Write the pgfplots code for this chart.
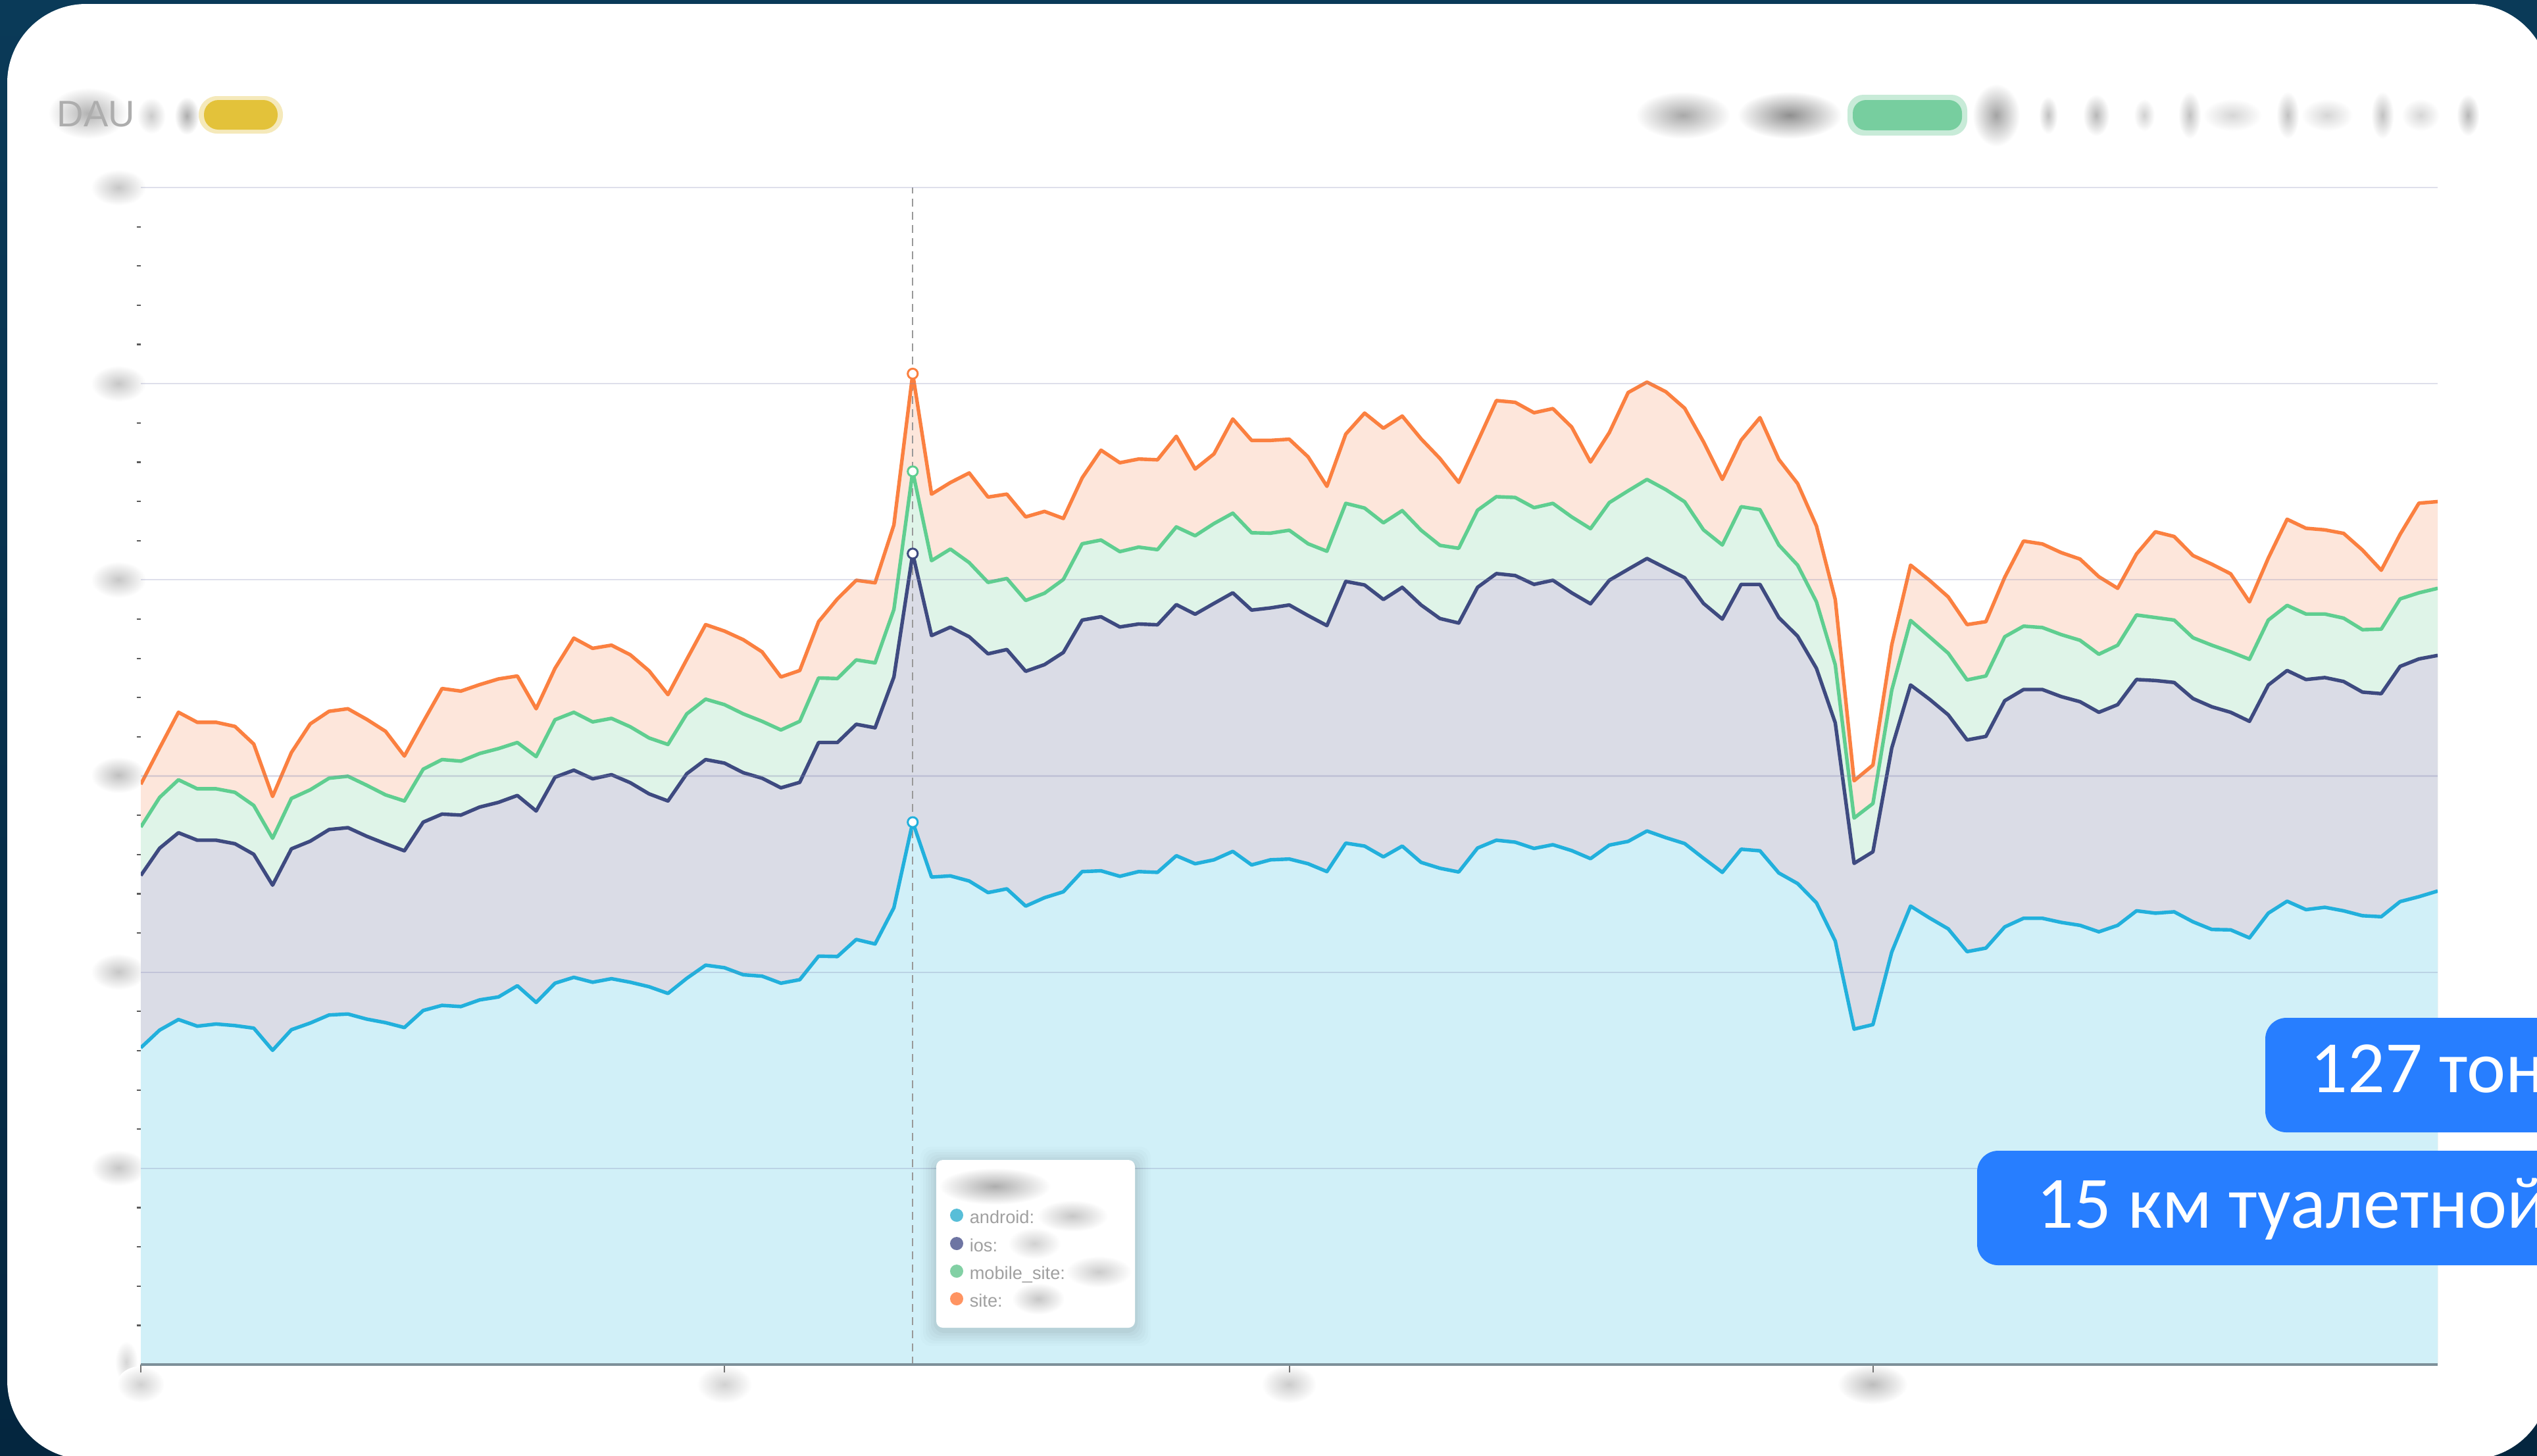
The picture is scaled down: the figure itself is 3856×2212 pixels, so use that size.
\documentclass[border=0pt]{standalone}
\usepackage{pgfplots}
\usepackage{pgfplotstable}
\usepackage{fontspec}
\setmainfont{Liberation Sans}
\newfontfamily\carlito{Carlito}
\pgfplotsset{compat=1.18}
\definecolor{bgA}{HTML}{0A3A58}
\definecolor{bgB}{HTML}{04263F}
\definecolor{cA}{HTML}{22B0DC}
\definecolor{cI}{HTML}{3E4A80}
\definecolor{cM}{HTML}{5FCE90}
\definecolor{cS}{HTML}{FB8040}
\definecolor{fA}{HTML}{D1F0F8}
\definecolor{fI}{HTML}{DADCE6}
\definecolor{fM}{HTML}{DFF4E8}
\definecolor{fS}{HTML}{FDE6DB}
\definecolor{gridc}{HTML}{7C80B0}
\definecolor{axisc}{HTML}{7D9099}
\definecolor{bluebox}{HTML}{277EFF}
\definecolor{tipt}{HTML}{A0A0A0}
\definecolor{pillY}{HTML}{E3C23A}
\definecolor{pillG}{HTML}{77CE9F}
\definecolor{dotA}{HTML}{58BED8}
\definecolor{dotI}{HTML}{6E75A3}
\definecolor{dotM}{HTML}{82D0A4}
\definecolor{dotS}{HTML}{FF9462}
\newcommand{\blob}[5]{\shade[inner color=#5, outer color=white] (#1,#2) ellipse ({#3*0.72} and {#4*0.72});}
\pgfplotstableread{
idx android ios mobile site
0 161.5 249.3 274.0 295.8
1 170.5 263.2 289.1 314.3
2 175.9 271.1 298.1 332.5
3 172.5 267.3 293.5 327.4
4 173.6 267.3 293.5 327.4
5 172.8 265.5 291.7 325.3
6 171.5 260.1 285.0 316.3
7 160.2 244.4 268.3 289.6
8 170.7 262.9 288.6 312.0
9 174.1 266.8 293.0 326.6
10 178.2 272.7 298.9 333.0
11 178.7 273.7 299.9 334.3
12 176.1 269.3 295.3 328.9
13 174.3 265.5 290.4 322.8
14 171.8 261.9 287.3 310.2
15 180.5 276.5 303.5 327.6
16 183.1 280.6 308.4 344.6
17 182.5 280.1 307.6 343.3
18 185.9 284.2 311.5 346.6
19 187.4 286.6 314.0 349.5
20 193.1 290.1 317.1 351.0
21 184.6 282.2 309.9 334.3
22 194.4 299.4 328.7 354.9
23 197.4 303.0 332.5 370.3
24 194.9 298.6 327.6 365.1
25 196.7 300.7 329.4 366.7
26 194.9 296.6 325.1 361.8
27 192.6 290.9 319.4 353.6
28 189.2 287.3 316.1 341.5
29 196.9 301.2 331.7 359.5
30 203.6 308.4 339.2 377.2
31 202.3 306.6 336.4 373.9
32 198.7 301.7 331.7 369.5
33 198.0 298.9 327.9 363.3
34 194.4 294.0 323.5 350.5
35 196.2 296.8 327.9 353.8
36 208.2 317.1 350.0 378.7
37 208.0 317.1 349.7 390.3
38 216.7 326.4 359.2 399.8
39 214.4 324.6 357.7 398.5
40 232.9 350.5 384.9 428.0
41 276.5 413.4 455.3 505.1
42 248.5 371.6 409.8 443.7
43 249.1 375.9 415.7 449.6
44 246.5 371.0 408.8 454.5
45 240.6 362.3 398.7 442.2
46 242.5 364.5 400.7 443.7
47 233.7 353.4 389.5 432.1
48 238.0 356.8 393.2 434.9
49 241.0 363.0 400.2 431.3
50 251.3 379.5 418.4 452.0
51 251.7 381.2 420.3 466.1
52 248.9 376.0 414.4 459.7
53 251.3 377.5 416.7 461.6
54 250.9 377.1 415.4 461.2
55 259.4 387.4 427.0 473.2
56 255.3 382.5 422.5 456.5
57 257.3 388.0 428.7 464.2
58 261.6 393.4 434.0 482.0
59 254.7 384.6 424.0 471.1
60 257.3 385.7 423.8 471.1
61 257.7 387.2 425.3 471.7
62 255.3 381.8 418.4 462.7
63 251.3 376.7 414.6 447.7
64 265.8 399.2 439.0 474.3
65 264.3 397.4 436.6 485.0
66 258.8 390.0 429.1 477.3
67 264.3 396.2 435.3 483.5
68 256.0 387.2 425.3 471.9
69 253.0 380.3 417.6 461.9
70 251.1 378.0 416.1 449.7
71 263.3 396.2 435.5 470.4
72 267.3 403.2 442.4 491.4
73 266.3 402.2 442.0 490.5
74 263.1 397.7 436.8 485.2
75 265.0 399.8 439.0 487.3
76 262.0 393.4 432.1 477.9
77 257.9 387.8 426.1 460.1
78 264.8 399.8 439.4 475.1
79 266.7 405.4 445.4 495.5
80 272.0 410.9 451.2 500.8
81 268.6 406.0 446.0 495.9
82 265.6 401.1 439.8 487.5
83 258.1 388.0 425.5 470.4
84 250.9 380.0 417.8 451.2
85 262.7 397.7 437.3 471.2
86 261.9 397.7 435.8 482.7
87 250.6 380.8 417.8 461.4
88 245.2 371.3 407.5 449.1
89 235.4 354.9 388.8 427.5
90 215.9 327.1 356.7 390.0
91 171.0 255.5 278.6 297.6
92 173.3 261.4 286.0 305.6
93 210.3 314.3 343.8 366.9
94 233.7 346.4 379.3 407.5
95 227.7 339.2 371.0 399.8
96 222.1 331.2 362.6 391.3
97 210.5 318.4 349.0 377.2
98 212.3 320.2 351.0 378.7
99 223.1 338.4 371.0 401.3
100 227.5 344.1 376.4 419.8
101 227.5 344.1 375.7 418.3
102 225.4 340.5 372.1 413.9
103 223.9 337.9 369.2 410.6
104 220.6 332.5 362.1 401.6
105 223.9 336.4 366.7 395.7
106 231.3 349.2 382.1 413.2
107 230.1 348.7 380.8 424.5
108 230.8 347.7 379.5 422.1
109 225.7 339.5 370.5 412.4
110 221.8 335.3 366.7 408.0
111 221.6 332.5 363.3 403.1
112 217.5 327.9 359.5 388.8
113 230.1 346.4 379.5 411.1
114 236.2 353.8 387.0 430.9
115 231.9 349.2 382.6 426.3
116 233.1 350.2 382.6 425.5
117 231.3 348.2 380.5 423.7
118 228.8 342.8 374.6 415.2
119 228.3 342.0 374.9 404.9
120 236.0 355.9 390.3 423.2
121 238.5 359.7 393.4 439.1
122 241.4 361.5 395.7 439.9
}\dautable
\begin{document}
\begin{tikzpicture}
\begin{scope}[x=0.25bp,y=-0.25bp]
\shade[top color=bgA,bottom color=bgB] (0,0) rectangle (3856,2212);
\fill[white,rounded corners=30bp] (11,6) rectangle (3875,2218);
% blurred header
\blob{134}{172}{84}{54}{black!30}
\node[text=black!32,anchor=base west,inner sep=0pt,font=\fontsize{14bp}{15bp}\selectfont] at (86,192) {DAU};
\blob{230}{176}{30}{38}{black!20}
\blob{284}{176}{26}{40}{black!32}
\fill[pillY,opacity=.35,rounded corners=7bp] (302,146) rectangle (430,203);
\fill[pillY,rounded corners=5.5bp] (310,152) rectangle (422,197);
\blob{2558}{175}{100}{50}{black!34}
\blob{2720}{175}{110}{50}{black!44}
\fill[pillG,opacity=.4,rounded corners=6bp] (2808,144) rectangle (2990,206);
\fill[pillG,rounded corners=5bp] (2816,152) rectangle (2982,198);
\blob{3034}{175}{50}{66}{black!36}
\blob{3113}{175}{20}{40}{black!24}
\blob{3186}{175}{28}{44}{black!28}
\blob{3259}{175}{22}{34}{black!18}
\blob{3328}{175}{24}{50}{black!24}
\blob{3393}{175}{62}{34}{black!16}
\blob{3477}{175}{24}{50}{black!24}
\blob{3537}{175}{54}{34}{black!16}
\blob{3621}{175}{24}{50}{black!24}
\blob{3679}{175}{40}{34}{black!16}
\blob{3751}{175}{24}{44}{black!28}
% blurred value labels
\blob{180}{285}{58}{38}{black!22}
\blob{180}{583}{58}{38}{black!22}
\blob{180}{881}{58}{38}{black!22}
\blob{180}{1178}{58}{38}{black!25}
\blob{180}{1477}{58}{38}{black!22}
\blob{180}{1775}{58}{38}{black!22}
\blob{192}{2070}{24}{44}{black!16}
\blob{214}{2104}{50}{38}{black!18}
\blob{1101}{2104}{58}{40}{black!18}
\blob{1959}{2104}{58}{40}{black!20}
\blob{2846}{2104}{74}{42}{black!26}
\coordinate (axorigin) at (214,2074);
\end{scope}

\begin{axis}[
  at={(axorigin)},anchor=south west,
  scale only axis,
  width=872.75bp,height=447.25bp,
  xmin=0,xmax=122,ymin=0,ymax=600,
  axis on top,
  axis lines=left,
  y axis line style={draw=none,-},
  x axis line style={draw=axisc,line width=0.8bp,-},
  xtick={0,31,61,92},
  ytick={0,100,200,300,400,500,600},
  minor y tick num=4,
  xticklabels={},yticklabels={},
  ymajorgrids,
  major grid style={draw=gridc,opacity=.25,line width=0.55bp},
  tick align=outside,
  major tick length=3bp,
  minor tick length=1.6bp,
  tick style={draw=black!55,line width=0.5bp},
  every major y tick/.style={draw=none},
  every minor y tick/.append style={draw=black!65,line width=0.55bp},
]
\addplot[fill=fS,draw=none] table[x=idx,y=site] {\dautable} \closedcycle;
\addplot[fill=fM,draw=none] table[x=idx,y=mobile] {\dautable} \closedcycle;
\addplot[fill=fI,draw=none] table[x=idx,y=ios] {\dautable} \closedcycle;
\addplot[fill=fA,draw=none] table[x=idx,y=android] {\dautable} \closedcycle;
\addplot[draw=black!40,line width=0.4bp,dash pattern=on 3bp off 2bp] coordinates {(41,0) (41,600)};
\addplot[draw=cS,line width=1.35bp,line join=round] table[x=idx,y=site] {\dautable};
\addplot[draw=cM,line width=1.35bp,line join=round] table[x=idx,y=mobile] {\dautable};
\addplot[draw=cI,line width=1.35bp,line join=round] table[x=idx,y=ios] {\dautable};
\addplot[draw=cA,line width=1.35bp,line join=round] table[x=idx,y=android] {\dautable};
\addplot[only marks,mark=*,mark size=1.9pt,mark options={draw=cS,fill=white,line width=0.75bp}] coordinates {(41,505.1)};
\addplot[only marks,mark=*,mark size=1.9pt,mark options={draw=cM,fill=white,line width=0.75bp}] coordinates {(41,455.3)};
\addplot[only marks,mark=*,mark size=1.9pt,mark options={draw=cI,fill=white,line width=0.75bp}] coordinates {(41,413.4)};
\addplot[only marks,mark=*,mark size=1.9pt,mark options={draw=cA,fill=white,line width=0.75bp}] coordinates {(41,276.5)};
\end{axis}

\begin{scope}[x=0.25bp,y=-0.25bp]
% tooltip
\foreach \e/\op in {24/.012,20/.015,16/.018,12/.02,8/.025,4/.03}{
  \fill[black,opacity=\op,rounded corners=4bp] (1423-\e,1763-\e+4) rectangle (1725+\e,2018+\e+4);
}
\fill[white,rounded corners=2.5bp] (1423,1763) rectangle (1725,2018);
\shade[inner color=black!32,outer color=white] (1512,1803) ellipse (85 and 28);
\fill[dotA] (1454,1847) circle (10);
\fill[dotI] (1454,1890) circle (10);
\fill[dotM] (1454,1932) circle (10);
\fill[dotS] (1454,1974) circle (10);
\begin{scope}[every node/.style={anchor=base west,inner sep=0pt,text=tipt,font=\fontsize{6.8bp}{8bp}\selectfont}]
\node at (1473,1859) {android:};
\node at (1473,1902) {ios:};
\node at (1473,1944) {mobile\_site:};
\node at (1473,1986) {site:};
\end{scope}
\shade[inner color=black!22,outer color=white] (1630,1848) ellipse (54 and 24);
\shade[inner color=black!18,outer color=white] (1572,1890) ellipse (40 and 24);
\shade[inner color=black!20,outer color=white] (1670,1933) ellipse (50 and 24);
\shade[inner color=black!22,outer color=white] (1578,1974) ellipse (40 and 24);
% callouts, cut off by the edge of the picture
\begin{scope}
\clip (0,0) rectangle (3856,2212);
\fill[bluebox,rounded corners=8bp] (3443,1547) rectangle (3960,1721);
\fill[bluebox,rounded corners=8bp] (3005,1749) rectangle (3960,1923);
\begin{scope}[every node/.style={anchor=base west,inner sep=0pt,text=white,font=\carlito\fontsize{28bp}{30bp}\selectfont}]
\node at (3511,1660) {127 тонн};
\node at (3095,1866) {15 км туалетной};
\end{scope}
\end{scope}
\pgfresetboundingbox
\useasboundingbox (0,0) rectangle (3856,2212);
\end{scope}
\end{tikzpicture}
\end{document}
